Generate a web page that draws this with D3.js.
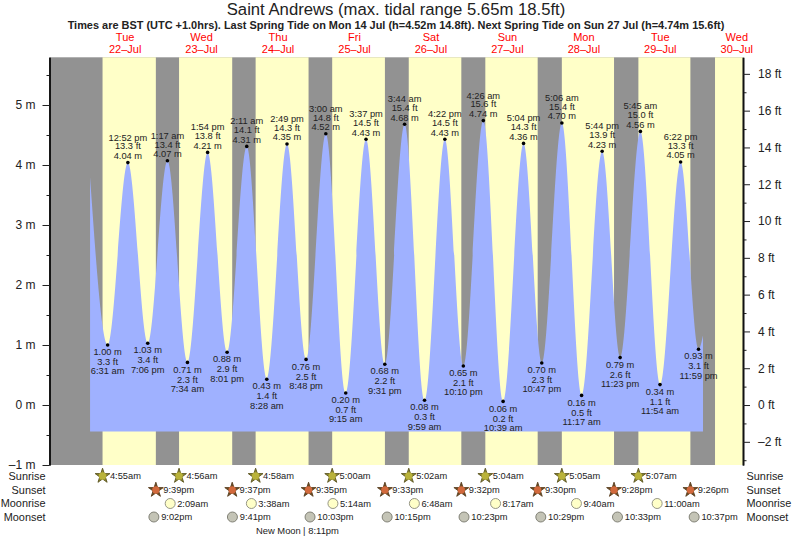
<!DOCTYPE html>
<html>
<head>
<meta charset="utf-8">
<script src="https://cdn.jsdelivr.net/npm/d3@7"></script>
<style>
html, body { margin: 0; padding: 0; background: #fff; }
svg { display: block; }
text { font-family: "Liberation Sans", Arial, sans-serif; fill: #222; }
</style>
</head>
<body>
<div id="container"></div>
<script>
// tide extremes, low first then alternating
const tideTimes = [
  "2025-07-22 06:31", "2025-07-22 12:52", "2025-07-22 19:06", "2025-07-23 01:17",
  "2025-07-23 07:34", "2025-07-23 13:54", "2025-07-23 20:01", "2025-07-24 02:11",
  "2025-07-24 08:28", "2025-07-24 14:49", "2025-07-24 20:48", "2025-07-25 03:00",
  "2025-07-25 09:15", "2025-07-25 15:37", "2025-07-25 21:31", "2025-07-26 03:44",
  "2025-07-26 09:59", "2025-07-26 16:22", "2025-07-26 22:10", "2025-07-27 04:26",
  "2025-07-27 10:39", "2025-07-27 17:04", "2025-07-27 22:47", "2025-07-28 05:06",
  "2025-07-28 11:17", "2025-07-28 17:44", "2025-07-28 23:23", "2025-07-29 05:45",
  "2025-07-29 11:54", "2025-07-29 18:22", "2025-07-29 23:59"
];
const tideMetres = [
  1.00, 4.04, 1.03, 4.07, 0.71, 4.21, 0.88, 4.31, 0.43, 4.35, 0.76, 4.52, 0.20, 4.43, 0.68, 4.68,
  0.08, 4.43, 0.65, 4.74, 0.06, 4.36, 0.70, 4.70, 0.16, 4.23, 0.79, 4.56, 0.34, 4.05, 0.93
];
const tideFeet = [
  3.3, 13.3, 3.4, 13.4, 2.3, 13.8, 2.9, 14.1, 1.4, 14.3, 2.5, 14.8, 0.7, 14.5, 2.2, 15.4,
  0.3, 14.5, 2.1, 15.6, 0.2, 14.3, 2.3, 15.4, 0.5, 13.9, 2.6, 15.0, 1.1, 13.3, 3.1
];
// where the drawn curve starts and stops, between extremes
const curveStart = ["2025-07-22 01:00", 3.80];
const curveEnd = ["2025-07-30 01:24", 1.16];
const areaBase = -0.44;

const sunrises = [
  "2025-07-22 04:55", "2025-07-23 04:56", "2025-07-24 04:58", "2025-07-25 05:00",
  "2025-07-26 05:02", "2025-07-27 05:04", "2025-07-28 05:05", "2025-07-29 05:07"
];
const sunsets = [
  "2025-07-22 21:39", "2025-07-23 21:37", "2025-07-24 21:35", "2025-07-25 21:33",
  "2025-07-26 21:32", "2025-07-27 21:30", "2025-07-28 21:28", "2025-07-29 21:26"
];
const lastSunrise = "2025-07-30 05:10"; // only seen as the band edge, not labelled
const moonrises = [
  "2025-07-23 02:09", "2025-07-24 03:38", "2025-07-25 05:14", "2025-07-26 06:48",
  "2025-07-27 08:17", "2025-07-28 09:40", "2025-07-29 11:00"
];
const moonsets = [
  "2025-07-22 21:02", "2025-07-23 21:41", "2025-07-24 22:03", "2025-07-25 22:15",
  "2025-07-26 22:23", "2025-07-27 22:29", "2025-07-28 22:33", "2025-07-29 22:37"
];
const newMoon = "2025-07-24 20:11";
const dayNoons = [
  "2025-07-22 12:00", "2025-07-23 12:00", "2025-07-24 12:00", "2025-07-25 12:00", "2025-07-26 12:00",
  "2025-07-27 12:00", "2025-07-28 12:00", "2025-07-29 12:00", "2025-07-30 12:00"
];
const metreTicks = [-1, 0, 1, 2, 3, 4, 5];
const metreMinor = [-0.5, 0.5, 1.5, 2.5, 3.5, 4.5, 5.5];
const feetTicks = [-2, 0, 2, 4, 6, 8, 10, 12, 14, 16, 18];
const feetMinor = [-3, -1, 1, 3, 5, 7, 9, 11, 13, 15, 17];
const rowNames = ["Sunrise", "Sunset", "Moonrise", "Moonset"];

const title = "Saint Andrews (max. tidal range 5.65m 18.5ft)";
const subtitle = "Times are BST (UTC +1.0hrs). Last Spring Tide on Mon 14 Jul (h=4.52m 14.8ft). Next Spring Tide on Sun 27 Jul (h=4.74m 15.6ft)";

const width = 793, height = 539;
const plot = {left: 49.5, right: 743, top: 57.3, bottom: 465};
const rowY = [476, 490, 503.5, 517];

const parse = d3.utcParse("%Y-%m-%d %H:%M");
const x = d3.scaleUtc([parse("2025-07-21 12:16"), parse("2025-07-30 13:57")], [plot.left, plot.right]);
const yM = d3.scaleLinear([-1, 5.795], [plot.bottom, plot.top]);
const yFt = d3.scaleLinear([-3.26, 18.9], [plot.bottom, plot.top]);

const fmtTide = t => d3.utcFormat("%-I:%M %p")(t).toLowerCase();
const fmtRow = t => d3.utcFormat("%-I:%M%p")(t).toLowerCase();
const dash = s => String(s).replace("-", "–");

const svg = d3.select("#container").append("svg")
    .attr("width", width).attr("height", height)
    .attr("viewBox", [0, 0, width, height]);

// night background and day bands
svg.append("rect")
    .attr("x", plot.left).attr("y", plot.top)
    .attr("width", plot.right - plot.left).attr("height", plot.bottom - plot.top)
    .attr("fill", "#929292");

const dayBands = sunrises.map((d, i) => [parse(d), parse(sunsets[i])]);
dayBands.push([parse(lastSunrise), x.domain()[1]]);
svg.append("g").selectAll("rect")
  .data(dayBands)
  .join("rect")
    .attr("x", d => x(d[0]))
    .attr("y", plot.top)
    .attr("width", d => x(d[1]) - x(d[0]))
    .attr("height", plot.bottom - plot.top)
    .attr("fill", "#ffffc8");

// tide curve
const tides = tideTimes.map((d, i) => ({t: parse(d), m: tideMetres[i], ft: tideFeet[i], high: i % 2 == 1}));
const curvePts = [{t: parse(curveStart[0]), m: curveStart[1]}, ...tides, {t: parse(curveEnd[0]), m: curveEnd[1]}];
const area = d3.area()
    .x(d => x(d.t))
    .y0(yM(areaBase))
    .y1(d => yM(d.m))
    .curve(d3.curveMonotoneX);
svg.append("path").datum(curvePts).attr("d", area).attr("fill", "#9fb1ff");

// extremes
svg.append("g").selectAll("circle")
  .data(tides)
  .join("circle")
    .attr("cx", d => x(d.t))
    .attr("cy", d => yM(d.m))
    .attr("r", 1.8)
    .attr("fill", "#000");

const tideLabels = svg.append("g")
    .attr("font-size", 9.3)
    .attr("text-anchor", "middle")
  .selectAll("g")
  .data(tides)
  .join("g")
    .attr("transform", d => `translate(${x(d.t)},${yM(d.m)})`);
tideLabels.append("text")
    .attr("y", d => d.high ? -3.7 : 10.3)
    .text(d => d.m.toFixed(2) + " m");
tideLabels.append("text")
    .attr("y", d => d.high ? -13.3 : 20.2)
    .text(d => d.ft.toFixed(1) + " ft");
tideLabels.append("text")
    .attr("y", d => d.high ? -22 : 29.4)
    .text(d => fmtTide(d.t));

// axes
const styleAxis = g => {
  g.selectAll("text").attr("font-size", 12).attr("fill", "#222");
  g.select(".domain").attr("stroke", "#111").attr("stroke-width", 1.6);
  g.selectAll("line").attr("stroke", "#222");
};
svg.append("g")
    .attr("transform", `translate(${plot.left},0)`)
    .call(d3.axisLeft(yM).tickValues(metreMinor).tickSize(3).tickSizeOuter(0).tickFormat(""))
    .call(styleAxis);
svg.append("g")
    .attr("transform", `translate(${plot.left},0)`)
    .call(d3.axisLeft(yM).tickValues(metreTicks).tickSize(7).tickSizeOuter(0).tickPadding(7)
      .tickFormat(d => dash(d) + " m"))
    .call(styleAxis);
svg.append("g")
    .attr("transform", `translate(${plot.right},0)`)
    .call(d3.axisRight(yFt).tickValues(feetMinor).tickSize(3.5).tickSizeOuter(0).tickFormat(""))
    .call(styleAxis);
svg.append("g")
    .attr("transform", `translate(${plot.right},0)`)
    .call(d3.axisRight(yFt).tickValues(feetTicks).tickSize(7).tickSizeOuter(0).tickPadding(8)
      .tickFormat(d => dash(d) + " ft"))
    .call(styleAxis);

// titles
svg.append("text")
    .attr("x", 396).attr("y", 15)
    .attr("text-anchor", "middle").attr("font-size", 16.7)
    .text(title);
svg.append("text")
    .attr("x", 396).attr("y", 28.8)
    .attr("text-anchor", "middle").attr("font-size", 10.95).attr("font-weight", "bold")
    .text(subtitle);

// day labels
const dayLabels = svg.append("g")
    .attr("font-size", 11)
    .attr("text-anchor", "middle")
  .selectAll("g")
  .data(dayNoons.map(parse))
  .join("g")
    .attr("transform", d => `translate(${x(d)},0)`);
dayLabels.append("text").attr("y", 41).style("fill", "#f00").text(d => d3.utcFormat("%a")(d));
dayLabels.append("text").attr("y", 53).style("fill", "#f00").text(d => d3.utcFormat("%d")(d) + "–" + d3.utcFormat("%b")(d));

// bottom rows
svg.append("g").attr("font-size", 10.9).attr("text-anchor", "end")
  .selectAll("text").data(rowNames).join("text")
    .attr("x", 45.5).attr("y", (d, i) => rowY[i] + 3.8).text(d => d);
svg.append("g").attr("font-size", 10.9)
  .selectAll("text").data(rowNames).join("text")
    .attr("x", 746.5).attr("y", (d, i) => rowY[i] + 3.8).text(d => d);

const star = d3.symbol(d3.symbolStar, 68);
const row = (times, i, gap) => {
  const g = svg.append("g").selectAll("g")
    .data(times.map(parse))
    .join("g")
      .attr("transform", d => `translate(${x(d)},${rowY[i]})`);
  g.append("text")
      .attr("x", gap).attr("y", 3.4).attr("font-size", 9.3)
      .text(fmtRow);
  return g;
};
const sunriseMarks = row(sunrises, 0, 7.4);
sunriseMarks.append("path")
    .attr("d", star).attr("fill", "#8f8a2e").attr("stroke", "#5a5420").attr("stroke-width", 0.9);
sunriseMarks.append("circle")
    .attr("r", 3.7).attr("fill", "#b9b23a");
const sunsetMarks = row(sunsets, 1, 7.4);
sunsetMarks.append("path")
    .attr("d", star).attr("fill", "#6b4a22").attr("stroke", "#5a4020").attr("stroke-width", 0.9);
sunsetMarks.append("circle")
    .attr("r", 3.7).attr("fill", "#d2693c");
row(moonrises, 2, 7).append("circle")
    .attr("r", 5).attr("fill", "#ffffc8").attr("stroke", "#8a8a7a").attr("stroke-width", 0.9);
row(moonsets, 3, 7.3).append("circle")
    .attr("r", 5).attr("fill", "#c4c4b6").attr("stroke", "#77776c").attr("stroke-width", 0.9);

// moon phase, split at its time
const newMoonX = x(parse(newMoon));
svg.append("text").attr("x", newMoonX - 3.3).attr("y", 534).attr("font-size", 9.4).attr("text-anchor", "end").text("New Moon");
svg.append("text").attr("x", newMoonX).attr("y", 534).attr("font-size", 9.4).attr("text-anchor", "middle").text("|");
svg.append("text").attr("x", newMoonX + 4.2).attr("y", 534).attr("font-size", 9.4).text(fmtRow(parse(newMoon)));
</script>
</body>
</html>
